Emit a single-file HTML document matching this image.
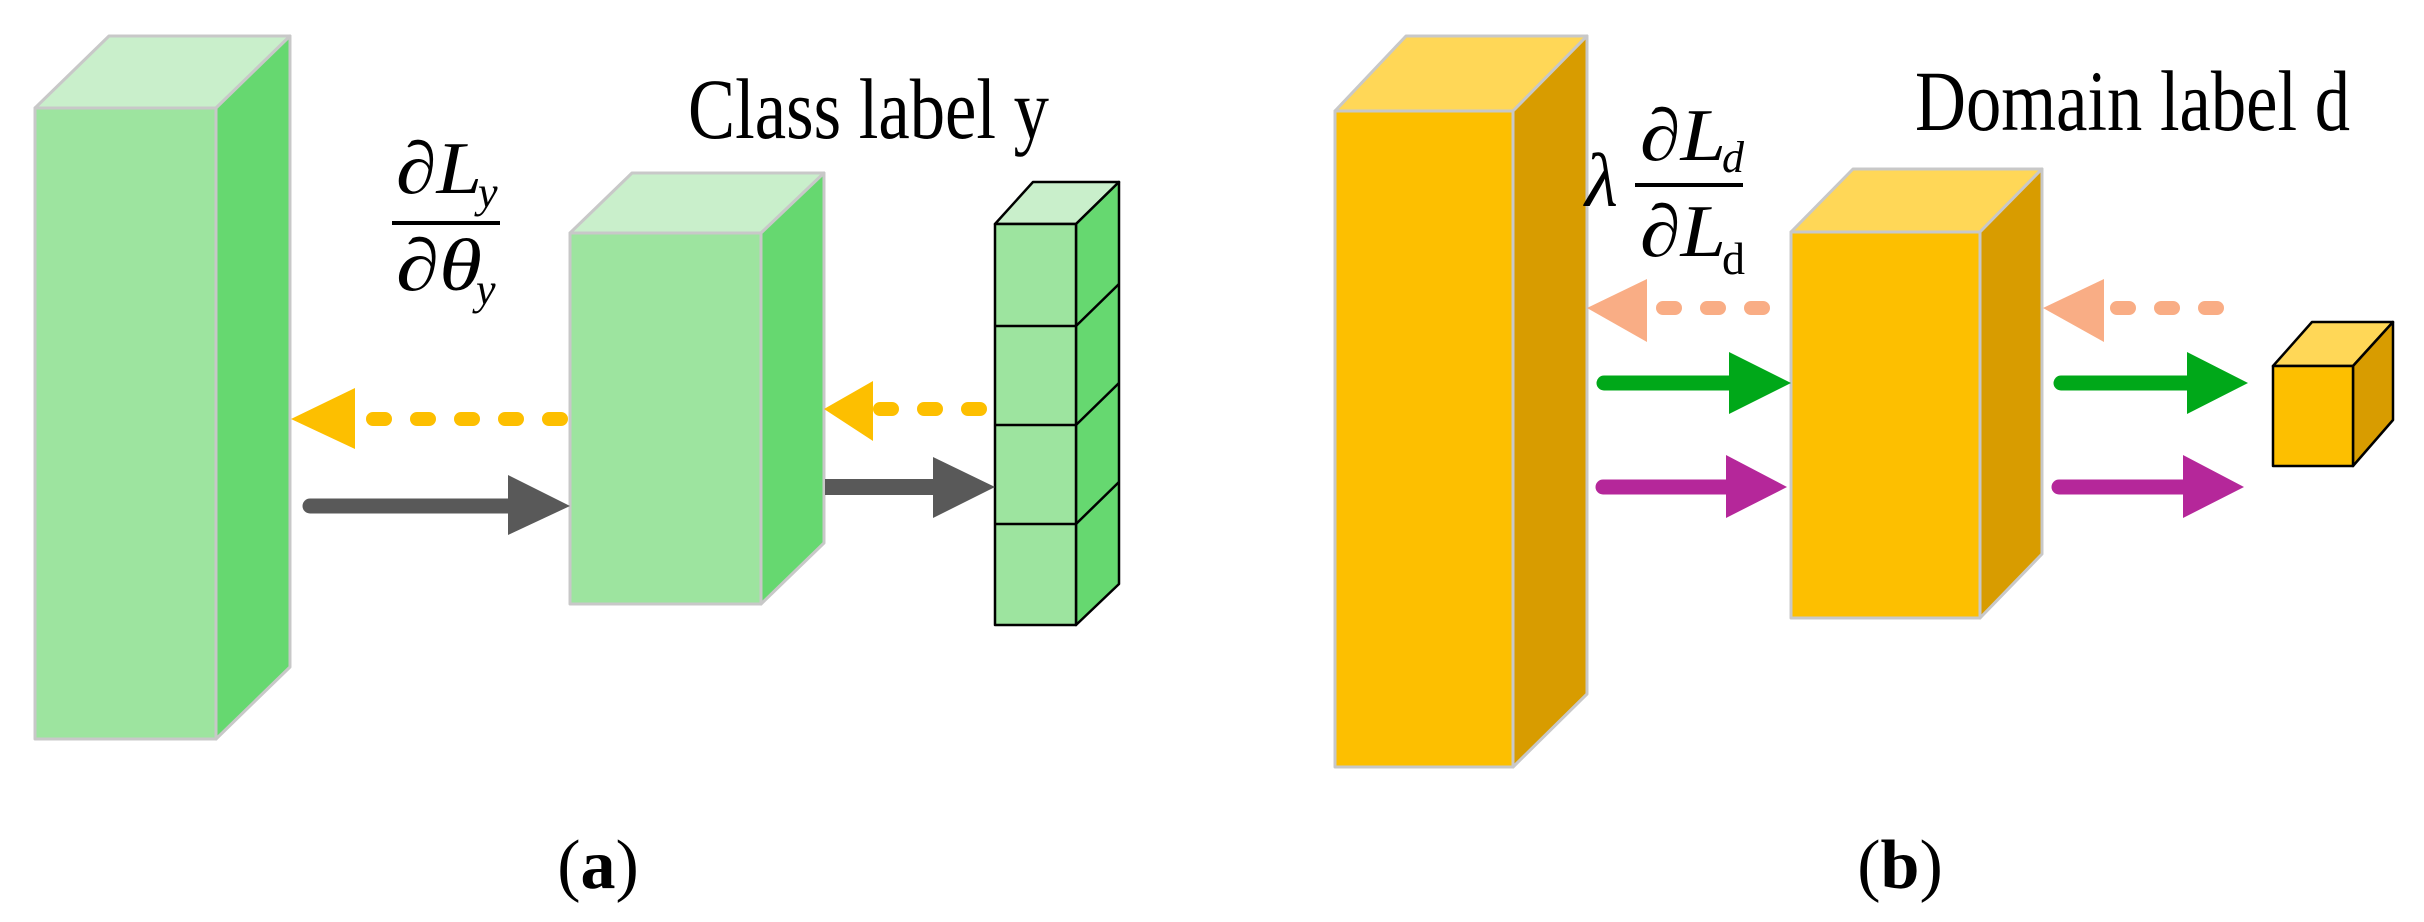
<!DOCTYPE html>
<html><head><meta charset="utf-8"><style>html,body{margin:0;padding:0;background:#fff}svg{display:block}</style></head>
<body>
<svg width="2424" height="922" viewBox="0 0 2424 922" xmlns="http://www.w3.org/2000/svg" font-family="'Liberation Serif', serif">
<g stroke="#c8c8c8" stroke-width="3" stroke-linejoin="round">
<polygon points="35,108 109,36 290,36 216,108" fill="#c9efcb"/>
<polygon points="216,108 290,36 290,667 216,739" fill="#66d870"/>
<rect x="35" y="108" width="181" height="631" fill="#9de49f"/>
<polygon points="570,233 632,173 824,173 761,233" fill="#c9efcb"/>
<polygon points="761,233 824,173 824,543 761,604" fill="#66d870"/>
<rect x="570" y="233" width="191" height="371" fill="#9de49f"/>
<polygon points="1335,111 1406,36 1587,36 1513,111" fill="#ffd757"/>
<polygon points="1513,111 1587,36 1587,694 1513,767" fill="#d89c00"/>
<rect x="1335" y="111" width="178" height="656" fill="#fdbf00"/>
<polygon points="1791,232 1853,169 2042,169 1980,232" fill="#ffd757"/>
<polygon points="1980,232 2042,169 2042,554 1980,618" fill="#d89c00"/>
<rect x="1791" y="232" width="189" height="386" fill="#fdbf00"/>
</g>
<g stroke="#000" stroke-width="2.5" stroke-linejoin="round">
<polygon points="995,224 1033,182 1119,182 1076,224" fill="#c9efcb"/>
<polygon points="1076,224 1119,182 1119,584 1076,625" fill="#66d870"/>
<rect x="995" y="224" width="81" height="401" fill="#9de49f"/>
<line x1="995" y1="326" x2="1076" y2="326"/><line x1="995" y1="425" x2="1076" y2="425"/><line x1="995" y1="524" x2="1076" y2="524"/>
<line x1="1076" y1="326" x2="1119" y2="284"/><line x1="1076" y1="425" x2="1119" y2="383"/><line x1="1076" y1="524" x2="1119" y2="482"/>
<polygon points="2273,366 2312,322 2393,322 2353,366" fill="#ffd757"/>
<polygon points="2353,366 2393,322 2393,420 2353,466" fill="#d89c00"/>
<rect x="2273" y="366" width="80" height="100" fill="#fdbf00"/>
</g>
<line x1="373" y1="419" x2="567" y2="419" stroke="#fdbf00" stroke-width="14" stroke-linecap="round" stroke-dasharray="12,32"/>
<polygon points="291,419 355,388 355,449" fill="#fdbf00"/>
<line x1="880" y1="409" x2="991" y2="409" stroke="#fdbf00" stroke-width="14" stroke-linecap="round" stroke-dasharray="12,32"/>
<polygon points="824,409 873,381 873,441" fill="#fdbf00"/>
<line x1="310" y1="506" x2="512" y2="506" stroke="#595959" stroke-width="15" stroke-linecap="round"/>
<polygon points="570,506 508,475 508,535" fill="#595959"/>
<line x1="825" y1="487" x2="935" y2="487" stroke="#595959" stroke-width="16"/>
<polygon points="995,487 933,457 933,518" fill="#595959"/>
<line x1="1663" y1="308" x2="1771" y2="308" stroke="#f9ad85" stroke-width="14" stroke-linecap="round" stroke-dasharray="12,32"/>
<polygon points="1587,308 1647,279 1647,342" fill="#f9ad85"/>
<line x1="2117" y1="308" x2="2226" y2="308" stroke="#f9ad85" stroke-width="14" stroke-linecap="round" stroke-dasharray="12,32"/>
<polygon points="2043,308 2104,279 2104,342" fill="#f9ad85"/>
<line x1="1604" y1="383" x2="1731" y2="383" stroke="#00a819" stroke-width="15" stroke-linecap="round"/>
<polygon points="1791,383 1729,352 1729,414" fill="#00a819"/>
<line x1="2061" y1="383" x2="2189" y2="383" stroke="#00a819" stroke-width="15" stroke-linecap="round"/>
<polygon points="2248,383 2187,352 2187,414" fill="#00a819"/>
<line x1="1603" y1="487" x2="1728" y2="487" stroke="#b5279a" stroke-width="15" stroke-linecap="round"/>
<polygon points="1787,487 1726,455 1726,518" fill="#b5279a"/>
<line x1="2059" y1="487" x2="2185" y2="487" stroke="#b5279a" stroke-width="15" stroke-linecap="round"/>
<polygon points="2244,487 2183,455 2183,518" fill="#b5279a"/>
<text x="688" y="138" font-size="86" textLength="361" lengthAdjust="spacingAndGlyphs">Class label y</text>
<text x="1915" y="130" font-size="86" textLength="435" lengthAdjust="spacingAndGlyphs">Domain label d</text>
<text x="396" y="193" font-size="74" textLength="86" lengthAdjust="spacingAndGlyphs">∂<tspan font-style="italic">L</tspan></text>
<text x="478" y="207" font-size="44" font-style="italic">y</text>
<rect x="392" y="221" width="108" height="4" fill="#000"/>
<text x="396" y="290" font-size="74" textLength="86" lengthAdjust="spacingAndGlyphs">∂<tspan font-style="italic">θ</tspan></text>
<text x="476" y="304" font-size="44" font-style="italic">y</text>
<text x="1585" y="206" font-size="76" font-style="italic">λ</text>
<text x="1640" y="160" font-size="74" textLength="86" lengthAdjust="spacingAndGlyphs">∂<tspan font-style="italic">L</tspan></text>
<text x="1722" y="172" font-size="44" font-style="italic">d</text>
<rect x="1635" y="183" width="108" height="4" fill="#000"/>
<text x="1640" y="256" font-size="74" textLength="86" lengthAdjust="spacingAndGlyphs">∂<tspan font-style="italic">L</tspan></text>
<text x="1722" y="274" font-size="46">d</text>
<text x="598" y="888" font-size="70" text-anchor="middle">(<tspan font-weight="bold">a</tspan>)</text>
<text x="1900" y="888" font-size="70" text-anchor="middle">(<tspan font-weight="bold">b</tspan>)</text>
</svg>
</body></html>
